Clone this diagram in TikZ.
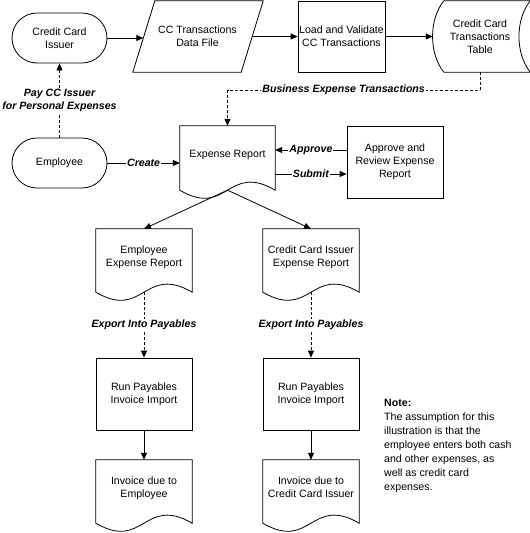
\documentclass[tikz,border=0pt]{standalone}
\usepackage{fontspec}
\setmainfont{Liberation Sans}
\usetikzlibrary{calc,arrows.meta}
\tikzset{
  every node/.style={font=\fontsize{10.6}{13}\selectfont, align=center, inner sep=1pt},
  ln/.style={line width=0.8pt, black},
  arr/.style={ln, -{Triangle[length=7pt,width=6pt]}},
  darr/.style={arr, dash pattern=on 3pt off 2pt},
  lbl/.style={font=\fontsize{10.6}{13}\selectfont\bfseries\itshape, fill=white, inner sep=1pt},
  term/.style={draw, ln, rectangle, rounded corners=25pt, minimum width=95pt, minimum height=50pt},
  proc/.style={draw, ln, rectangle, minimum width=#1, minimum height=72pt},
  ghost/.style={rectangle},
  docnode/.style={rectangle, text depth=9pt},
}
\newcommand\docpath[1]{%
  \draw[ln] (#1.south west) -- (#1.north west) -- (#1.north east) -- (#1.south east)
    .. controls ($(#1.south)+(0,-28)$) and ($(#1.south)+(0,28)$) .. (#1.south west) -- cycle;}
\begin{document}
\begin{tikzpicture}[x=1pt,y=-1pt]
\useasboundingbox (0,0) rectangle (530,533);
% top row
\node[term] (cci) at (59.5,38) {Credit Card\\Issuer};
\node[ghost, minimum width=108pt, minimum height=71pt] (ccf) at (197.5,36.5) {CC Transactions\\Data File};
\draw[ln] ($(ccf.south west)+(-10.5,0)$) -- ($(ccf.north west)+(11.5,0)$) -- ($(ccf.north east)+(11.5,0)$) -- ($(ccf.south east)+(-10.5,0)$) -- cycle;
\node[proc=87pt, minimum height=71pt] (load) at (341.5,36.5) {Load and Validate\\CC Transactions};
\node[ghost, minimum width=94pt, minimum height=71pt] (tbl) at (480,36.5) {Credit Card\\Transactions\\Table};
\draw[ln] ($(tbl.north west)+(11,0)$) -- ($(tbl.north east)+(3,0)$)
  .. controls ($(tbl.north east)+(-12,19)$) and ($(tbl.south east)+(-12,-19)$) .. ($(tbl.south east)+(3,0)$)
  -- ($(tbl.south west)+(11,0)$)
  .. controls ($(tbl.south west)+(-4,-19)$) and ($(tbl.north west)+(-4,19)$) .. ($(tbl.north west)+(11,0)$) -- cycle;
% middle row
\node[term] (emp) at (59.5,163) {Employee};
\node[docnode, minimum width=95pt, minimum height=64pt] (er) at (227.5,158) {Expense Report};
\docpath{er}
\node[proc=96pt] (apr) at (395,162) {Approve and\\Review Expense\\Report};
\coordinate (aprA) at ($(apr.west)+(0,-12)$);
\coordinate (aprS) at ($(apr.west)+(0,12)$);
% reports
\node[docnode, minimum width=96pt, minimum height=63pt] (eer) at (144,260.5) {Employee\\Expense Report};
\docpath{eer}
\node[docnode, minimum width=96pt, minimum height=63pt] (cer) at (311,260.5) {Credit Card Issuer\\Expense Report};
\docpath{cer}
\node[proc=96pt] (runL) at (144,394) {Run Payables\\Invoice Import};
\node[proc=96pt] (runR) at (311,394) {Run Payables\\Invoice Import};
\node[docnode, minimum width=96pt, minimum height=63pt] (invL) at (144,491.5) {Invoice due to\\Employee};
\docpath{invL}
\node[docnode, minimum width=96pt, minimum height=63pt] (invR) at (311,491.5) {Invoice due to\\Credit Card Issuer};
\docpath{invR}
% note
\node[anchor=north west, align=left, font=\fontsize{10.6}{14}\selectfont, inner sep=0pt] (note) at (384,399)
  {\textbf{Note:}\\The assumption for this\\illustration is that the\\employee enters both cash\\and other expenses, as\\well as credit card\\expenses.};
% connectors
\draw[arr] (cci.east) -- (cci.east -| ccf.west);
\draw[arr] (ccf.east) -- (ccf.east -| load.west);
\draw[arr] (load.east) -- (load.east -| tbl.west);
\draw[darr] (tbl.south) -- ++(0,18) -| node[lbl, pos=0.27] {Business Expense Transactions} (er.north);
\draw[darr] (emp.north) -- node[lbl] {Pay CC Issuer\\for Personal Expenses} (cci.south);
\draw[arr] (emp.east) -- node[lbl] {Create} (emp.east -| er.west);
\draw[arr] (aprA) -- node[lbl] {Approve} (aprA -| er.east);
\draw[arr] (aprS -| er.east) -- node[lbl] {Submit} (aprS);
\draw[arr] (er.south) -- (eer.north);
\draw[arr] (er.south) -- (cer.north);
\draw[darr] (eer.south) -- node[lbl] {Export Into Payables} (runL.north);
\draw[darr] (cer.south) -- node[lbl] {Export Into Payables} (runR.north);
\draw[arr] (runL.south) -- (invL.north);
\draw[arr] (runR.south) -- (invR.north);
\end{tikzpicture}
\end{document}
